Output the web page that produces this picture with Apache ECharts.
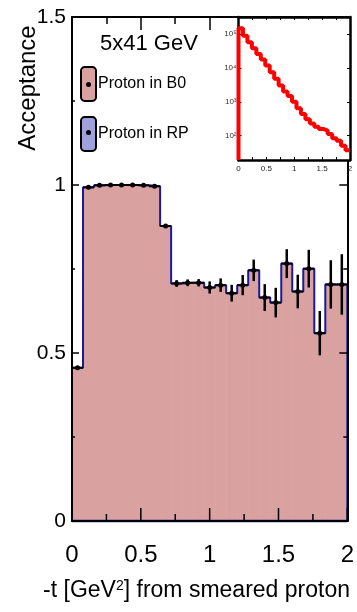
<!DOCTYPE html>
<html>
<head>
<meta charset="utf-8">
<title>Acceptance vs -t</title>
<script src="https://cdn.jsdelivr.net/npm/echarts@6/dist/echarts.min.js"></script>
<style>
  html, body { margin: 0; padding: 0; background: #fff; }
  #chart { width: 357px; height: 612px; }
</style>
</head>
<body>
<div id="chart"></div>
<script>
// -t bin edges [GeV^2], 25 bins of 0.08
const tBinEdges = [0.00, 0.08, 0.16, 0.24, 0.32, 0.40, 0.48, 0.56, 0.64, 0.72,
                   0.80, 0.88, 0.96, 1.04, 1.12, 1.20, 1.28, 1.36, 1.44, 1.52,
                   1.60, 1.68, 1.76, 1.84, 1.92, 2.00];

// Acceptance for protons reaching the B0 detector, per bin
const b0Acceptance = [0.456, 0.993, 0.999, 1.000, 1.000, 1.000, 0.999, 0.996, 0.878, 0.707,
                      0.709, 0.709, 0.695, 0.702, 0.678, 0.702, 0.746, 0.665, 0.650, 0.766,
                      0.683, 0.751, 0.559, 0.704, 0.704];
// Statistical uncertainty on the B0 acceptance
const b0Error = [0.004, 0.003, 0.002, 0.002, 0.002, 0.002, 0.002, 0.003, 0.004, 0.010,
                 0.010, 0.011, 0.018, 0.020, 0.025, 0.030, 0.032, 0.040, 0.044, 0.043,
                 0.050, 0.056, 0.066, 0.072, 0.090];
// Acceptance for protons reaching the Roman Pots, per bin
const rpAcceptance = [0, 0, 0, 0, 0, 0, 0, 0, 0, 0, 0, 0, 0, 0, 0, 0, 0, 0, 0, 0, 0, 0, 0, 0, 0];

// Generated -t distribution (counts per bin), shown on a log scale
const generatedCounts = [148000, 89000, 57500, 38000, 25700, 17800, 11700, 7400, 4790, 3020,
                         2000, 1480, 1000, 646, 437, 302, 229, 182, 158, 141,
                         112, 83, 71, 50, 37];

// tick values of the main frame
const xTicks = [0, 0.5, 1, 1.5, 2];
const xMinorTicks = [0.25, 0.75, 1.25, 1.75];
const yTicks = [0, 0.5, 1, 1.5];
const yMinorTicks = [0.25, 0.75, 1.25];

const INSET_Y_MIN = 19;
const INSET_Y_MAX = 320000;

const FONT = '"Liberation Sans", Arial, Helvetica, sans-serif';
const PINK = '#d9a19f';
const LAVENDER = '#a0a0dc';
const NAVY = '#1a1aa0';

// per-bin rows: [low edge, high edge, value, error]
const b0Bins = b0Acceptance.map((v, i) => [tBinEdges[i], tBinEdges[i + 1], v, b0Error[i]]);
const rpBins = rpAcceptance.map((v, i) => [tBinEdges[i], tBinEdges[i + 1], v]);

// step outline points for the B0 histogram
const b0Outline = [[tBinEdges[0], 0]];
b0Acceptance.forEach((v, i) => b0Outline.push([tBinEdges[i], v]));
b0Outline.push([tBinEdges[tBinEdges.length - 1], b0Acceptance[b0Acceptance.length - 1]]);
b0Outline.push([tBinEdges[tBinEdges.length - 1], 0]);

// step points for the generated distribution
const genStep = [[tBinEdges[0], INSET_Y_MIN]];
generatedCounts.forEach((c, i) => genStep.push([tBinEdges[i], c]));
genStep.push([tBinEdges[tBinEdges.length - 1], generatedCounts[generatedCounts.length - 1]]);

// inward ticks on the bottom (side 0) and left (side 1) edges: [side, value, length]
const frameTickRows = []
  .concat(xTicks.map(v => [0, v, 13]))
  .concat(xMinorTicks.map(v => [0, v, 7]))
  .concat(yTicks.map(v => [1, v, 7]))
  .concat(yMinorTicks.map(v => [1, v, 3]));

const chart = echarts.init(document.getElementById('chart'), null, { renderer: 'canvas' });

function frameLine() {
  return { show: true, onZero: false, lineStyle: { color: '#000', width: 2 } };
}

function mainX(position, opts) {
  return {
    type: 'value', gridIndex: 0, position: position, z: 10,
    min: xTicks[0], max: xTicks[xTicks.length - 1], interval: 0.5,
    axisLine: frameLine(),
    axisTick: { show: opts.ticks, inside: true, length: 13,
                lineStyle: { color: '#000', width: 1.5 } },
    minorTick: { show: opts.ticks, splitNumber: 2, length: 7,
                 lineStyle: { color: '#000', width: 1.5 } },
    splitLine: { show: false },
    axisLabel: {
      show: opts.labels, fontSize: 24, margin: 22, color: '#000', fontFamily: FONT,
      formatter: v => String(v)
    }
  };
}
function mainY(position, opts) {
  return {
    type: 'value', gridIndex: 0, position: position, z: 10,
    min: yTicks[0], max: yTicks[yTicks.length - 1], interval: 0.5,
    axisLine: frameLine(),
    axisTick: { show: opts.ticks, inside: true, length: 8,
                lineStyle: { color: '#000', width: 1.5 } },
    minorTick: { show: opts.ticks, splitNumber: 2, length: 4,
                 lineStyle: { color: '#000', width: 1.5 } },
    splitLine: { show: false },
    axisLabel: {
      show: opts.labels, fontSize: 21, margin: 6, color: '#000', fontFamily: FONT,
      formatter: v => String(v)
    }
  };
}

const supDigits = { 1: '\u00b9', 2: '\u00b2', 3: '\u00b3', 4: '\u2074', 5: '\u2075' };

function insetX(position, showLabels) {
  return {
    type: 'value', gridIndex: 1, position: position, z: 12,
    min: 0, max: 2, interval: 0.5,
    axisLine: { show: true, onZero: false, lineStyle: { color: '#000', width: 2.5 } },
    axisTick: { show: true, inside: true, length: 3, lineStyle: { color: '#000', width: 1 } },
    minorTick: { show: true, splitNumber: 2, length: 3, lineStyle: { color: '#000', width: 1 } },
    splitLine: { show: false },
    axisLabel: {
      show: showLabels, fontSize: 8, margin: 5, color: '#222', fontFamily: FONT,
      formatter: v => String(v)
    }
  };
}
function insetY(position, showLabels) {
  return {
    type: 'log', logBase: 10, gridIndex: 1, position: position, z: 12,
    min: INSET_Y_MIN, max: INSET_Y_MAX,
    axisLine: { show: true, onZero: false, lineStyle: { color: '#000', width: 2.5 } },
    axisTick: { show: true, inside: true, length: 3, lineStyle: { color: '#000', width: 1 } },
    splitLine: { show: false },
    axisLabel: {
      show: showLabels, fontSize: 8, margin: 2, color: '#333', fontFamily: FONT,
      showMinLabel: false, showMaxLabel: false,
      formatter: v => {
        const e = Math.round(Math.log10(v));
        return '10{e|' + (supDigits[e] || e) + '}';
      },
      rich: { e: { fontSize: 8, color: '#333', fontFamily: FONT } }
    }
  };
}

const option = {
  animation: false,
  backgroundColor: '#fff',
  textStyle: { fontFamily: FONT },
  title: {
    text: '5x41 GeV',
    left: 100, top: 33, padding: 0,
    textStyle: { fontSize: 22, fontWeight: 'normal', color: '#000', fontFamily: FONT }
  },
  legend: {
    orient: 'vertical',
    left: 80, top: 66, padding: 0,
    itemWidth: 15, itemHeight: 34, itemGap: 14,
    selectedMode: false,
    textStyle: { fontSize: 16, color: '#000', fontFamily: FONT, padding: [8, 0, 0, -3] },
    data: [
      { name: 'Proton in B0', icon: 'roundRect',
        itemStyle: { color: PINK, borderColor: '#000', borderWidth: 2 } },
      { name: 'Proton in RP', icon: 'roundRect',
        itemStyle: { color: LAVENDER, borderColor: '#000', borderWidth: 2 } }
    ]
  },
  grid: [
    { left: 72, right: 7, top: 17, bottom: 91, show: false },
    { left: 238.5, right: 7, top: 17, height: 143, show: true, z: 11,
      backgroundColor: '#fff', borderWidth: 0 }
  ],
  xAxis: [
    mainX('bottom', { ticks: false, labels: true }),
    mainX('top', { ticks: true, labels: false }),
    insetX('bottom', true),
    insetX('top', false)
  ],
  yAxis: [
    mainY('left', { ticks: false, labels: true }),
    mainY('right', { ticks: true, labels: false }),
    insetY('left', true),
    insetY('right', false)
  ],
  graphic: [
    {
      type: 'text', x: 28, y: 88, rotation: Math.PI / 2,
      style: { text: 'Acceptance', font: '24px ' + FONT, fill: '#000',
               align: 'center', verticalAlign: 'middle' }
    },
    {
      type: 'text', x: 350, y: 591,
      style: {
        text: '{a|-t [GeV}{s|2}{a|] from smeared proton}',
        align: 'right', verticalAlign: 'middle',
        rich: {
          a: { fontSize: 23, fontFamily: FONT, fill: '#000', color: '#000' },
          s: { fontSize: 14, fontFamily: FONT, fill: '#000', color: '#000',
               verticalAlign: 'top', padding: [0, 0, 10, 0] }
        }
      }
    },
    { type: 'circle', shape: { cx: 88.5, cy: 84.5, r: 2.5 }, style: { fill: '#000' }, z: 100 },
    { type: 'circle', shape: { cx: 88.5, cy: 132.5, r: 2.5 }, style: { fill: '#000' }, z: 100 }
  ],
  series: [
    {
      name: 'Proton in B0',
      type: 'custom',
      xAxisIndex: 0, yAxisIndex: 0,
      itemStyle: { color: PINK },
      encode: { x: [0, 1], y: 2 },
      data: b0Bins,
      z: 2,
      renderItem: (params, api) => {
        const p0 = api.coord([api.value(0), 0]);
        const p1 = api.coord([api.value(1), api.value(2)]);
        return {
          type: 'rect',
          shape: { x: p0[0], y: p1[1], width: p1[0] - p0[0] + 0.6, height: p0[1] - p1[1] },
          style: { fill: PINK }
        };
      }
    },
    {
      name: 'Proton in B0',
      type: 'line',
      xAxisIndex: 0, yAxisIndex: 0,
      step: 'end',
      showSymbol: false,
      clip: false,
      data: b0Outline,
      z: 3,
      lineStyle: { color: NAVY, width: 2 },
      itemStyle: { color: PINK }
    },
    {
      name: 'Proton in RP',
      type: 'custom',
      xAxisIndex: 0, yAxisIndex: 0,
      itemStyle: { color: LAVENDER },
      encode: { x: [0, 1], y: 2 },
      data: rpBins,
      z: 9,
      renderItem: (params, api) => {
        const p0 = api.coord([api.value(0), api.value(2)]);
        const p1 = api.coord([api.value(1), api.value(2)]);
        return {
          type: 'line',
          shape: { x1: p0[0], y1: p0[1], x2: p1[0], y2: p1[1] },
          style: { stroke: NAVY, lineWidth: 2.5 }
        };
      }
    },
    {
      name: 'B0 error bars',
      type: 'custom',
      xAxisIndex: 0, yAxisIndex: 0,
      encode: { x: [0, 1], y: 2 },
      data: b0Bins,
      z: 5,
      renderItem: (params, api) => {
        const lo = api.value(0), hi = api.value(1), v = api.value(2), e = api.value(3);
        const mid = (lo + hi) / 2;
        const pL = api.coord([lo, v]);
        const pR = api.coord([hi, v]);
        const pT = api.coord([mid, v + e]);
        const pB = api.coord([mid, v - e]);
        const pC = api.coord([mid, v]);
        return {
          type: 'group',
          children: [
            { type: 'line', shape: { x1: pL[0], y1: pL[1], x2: pR[0], y2: pR[1] },
              style: { stroke: '#000', lineWidth: 2 } },
            { type: 'line', shape: { x1: pT[0], y1: pT[1], x2: pB[0], y2: pB[1] },
              style: { stroke: '#000', lineWidth: 2.5 } },
            { type: 'circle', shape: { cx: pC[0], cy: pC[1], r: 2.5 },
              style: { fill: '#000' } }
          ]
        };
      }
    },
    {
      // inward tick marks of the bottom and left frame edges, placed by the axis scales
      name: 'frame ticks',
      type: 'custom',
      xAxisIndex: 0, yAxisIndex: 0,
      clip: false,
      silent: true,
      z: 20,
      encode: { x: 1 },
      data: frameTickRows,
      renderItem: (params, api) => {
        const side = api.value(0), v = api.value(1), len = api.value(2);
        if (side === 0) {
          const p = api.coord([v, yTicks[0]]);
          return { type: 'line', shape: { x1: p[0], y1: p[1], x2: p[0], y2: p[1] - len },
                   style: { stroke: '#000', lineWidth: 1.5 } };
        }
        const p = api.coord([xTicks[0], v]);
        return { type: 'line', shape: { x1: p[0], y1: p[1], x2: p[0] + len, y2: p[1] },
                 style: { stroke: '#000', lineWidth: 1.5 } };
      }
    },
    {
      name: 'Generated -t',
      type: 'line',
      xAxisIndex: 2, yAxisIndex: 2,
      step: 'end',
      showSymbol: false,
      data: genStep,
      z: 13,
      lineStyle: { color: '#ff0000', width: 4 }
    }
  ]
};

chart.setOption(option);
</script>
</body>
</html>
